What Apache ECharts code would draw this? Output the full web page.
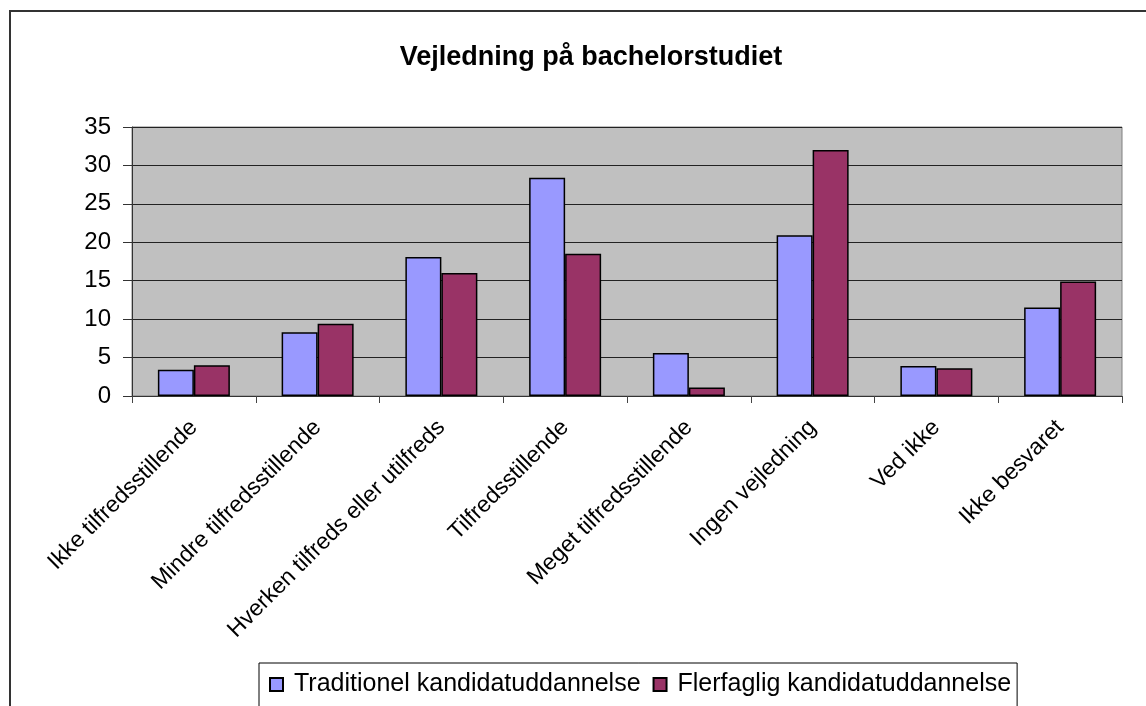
<!DOCTYPE html>
<html>
<head>
<meta charset="utf-8">
<script src="https://cdn.jsdelivr.net/npm/echarts@6/dist/echarts.min.js"></script>
<style>
  html, body { margin: 0; padding: 0; background: #fff; }
  #chart { width: 1146px; height: 706px; }
</style>
</head>
<body>
<div id="chart"></div>
<script>
  // kategorier og værdier
  const categories = [
    'Ikke tilfredsstillende',
    'Mindre tilfredsstillende',
    'Hverken tilfreds eller utilfreds',
    'Tilfredsstillende',
    'Meget tilfredsstillende',
    'Ingen vejledning',
    'Ved ikke',
    'Ikke besvaret'
  ]
  const traditionel = [3.4, 8.3, 18.1, 28.4, 5.6, 20.9, 3.9, 11.5]
  const flerfaglig = [4.0, 9.4, 16.0, 18.5, 1.1, 32.0, 3.6, 14.9]
  const seriesNames = ['Traditionel kandidatuddannelse', 'Flerfaglig kandidatuddannelse']

  const font = "'Liberation Sans', Arial, sans-serif"

  let chart = echarts.init(document.getElementById('chart'))
  chart.setOption({
    animation: false,
    color: ['#9999FF', '#993366'],
    textStyle: { fontFamily: font },
    title: {
      text: 'Vejledning på bachelorstudiet',
      left: 586,
      top: 39,
      textAlign: 'center',
      textStyle: { fontFamily: font, fontSize: 27, fontWeight: 'bold', color: '#000' }
    },
    graphic: [
      {
        // ydre ramme om diagramområdet (beskåret til højre og forneden)
        type: 'rect',
        shape: { x: 10, y: 11, width: 1300, height: 900 },
        style: { fill: 'none', stroke: '#333', lineWidth: 2 },
        silent: true
      }
    ],
    legend: {
      data: seriesNames,
      left: 259,
      top: 663,
      orient: 'horizontal',
      icon: 'rect',
      itemWidth: 13,
      itemHeight: 13,
      itemGap: 12,
      padding: [8, 6, 30, 10],
      borderColor: '#000',
      borderWidth: 1,
      textStyle: { fontFamily: font, fontSize: 25, color: '#000', lineHeight: 27, padding: [0, 0, 0, 6] }
    },
    grid: {
      left: 132,
      right: 24,
      top: 127,
      bottom: 310,
      show: true,
      backgroundColor: '#C0C0C0',
      borderColor: '#808080',
      borderWidth: 1
    },
    xAxis: {
      type: 'category',
      data: categories,
      axisLine: { lineStyle: { color: '#333', width: 1 } },
      axisTick: { show: true, length: 7, lineStyle: { color: '#444' } },
      axisLabel: {
        interval: 0,
        rotate: 45,
        margin: 28,
        fontFamily: font,
        fontSize: 23,
        color: '#000'
      }
    },
    yAxis: {
      type: 'value',
      min: 0,
      max: 35,
      interval: 5,
      axisLine: { show: true, lineStyle: { color: '#333', width: 1 } },
      axisTick: { show: true, length: 9, lineStyle: { color: '#333' } },
      axisLabel: { margin: 21, fontFamily: font, fontSize: 24, color: '#000' },
      splitLine: { show: true, lineStyle: { color: '#222', width: 1 } }
    },
    series: [
      {
        name: seriesNames[0],
        type: 'bar',
        barWidth: 36,
        barGap: '0%',
        itemStyle: { borderColor: '#000', borderWidth: 1.5 },
        data: traditionel
      },
      {
        name: seriesNames[1],
        type: 'bar',
        barWidth: 36,
        barGap: '0%',
        itemStyle: { borderColor: '#000', borderWidth: 1.5 },
        data: flerfaglig
      }
    ]
  })
</script>
</body>
</html>
